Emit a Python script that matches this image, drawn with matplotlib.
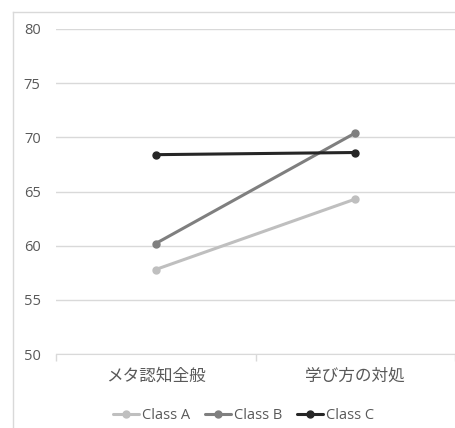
import matplotlib.pyplot as plt
from matplotlib.lines import Line2D

# --- data ---
categories = ['メタ認知全般', '学び方の対処']
series_names = ['Class A', 'Class B', 'Class C']
class_a = [57.8, 64.3]
class_b = [60.2, 70.4]
class_c = [68.4, 68.6]
y_ticks = [50, 55, 60, 65, 70, 75, 80]

colors = ['#BFBFBF', '#7F7F7F', '#262626']
txt_color = '#595959'

plt.rcParams['font.family'] = ['Open Sans', 'Noto Sans CJK JP', 'DejaVu Sans']

fig = plt.figure(figsize=(4.55, 4.28), dpi=100)
ax = fig.add_axes([56 / 455, 1 - 354 / 428, 399 / 455, 325 / 428])

x = list(range(len(categories)))
for vals, name, c in zip([class_a, class_b, class_c], series_names, colors):
    ax.plot(x, vals, color=c, lw=2.2, marker='o', ms=5, label=name,
            solid_capstyle='round')

ax.set_xlim(-0.5, len(categories) - 0.5)
ax.set_ylim(50, 80)
ax.set_yticks(y_ticks)
ax.set_yticklabels([str(v) for v in y_ticks], color=txt_color, fontsize=10.5)
ax.tick_params(axis='y', length=0, pad=11)
ax.grid(axis='y', color='#D9D9D9', lw=1)
ax.set_axisbelow(True)

ax.set_xticks(x)
ax.set_xticklabels(categories, color=txt_color, fontsize=12,
                   family=['Noto Sans CJK JP', 'DejaVu Sans'])
ax.tick_params(axis='x', length=0, pad=10)
ax.set_xticks([-0.5, 0.5, 1.5], minor=True)
ax.tick_params(axis='x', which='minor', length=5, color='#D9D9D9', width=1)

for s in ['top', 'right', 'left']:
    ax.spines[s].set_visible(False)
ax.spines['bottom'].set_color('#D9D9D9')

leg = ax.legend(loc='upper center', bbox_to_anchor=(0.47, -0.125), ncol=3,
                frameon=False, fontsize=10.5, handlelength=1.8,
                columnspacing=1.0, handletextpad=0.2)
for t in leg.get_texts():
    t.set_color(txt_color)

# chart border (left and top edges visible in crop)
fig.add_artist(Line2D([13 / 455, 13 / 455], [0, 1 - 12 / 428],
                      transform=fig.transFigure, color='#D9D9D9', lw=1))
fig.add_artist(Line2D([13 / 455, 1], [1 - 12 / 428, 1 - 12 / 428],
                      transform=fig.transFigure, color='#D9D9D9', lw=1))

fig.savefig('out.png', dpi=100)
